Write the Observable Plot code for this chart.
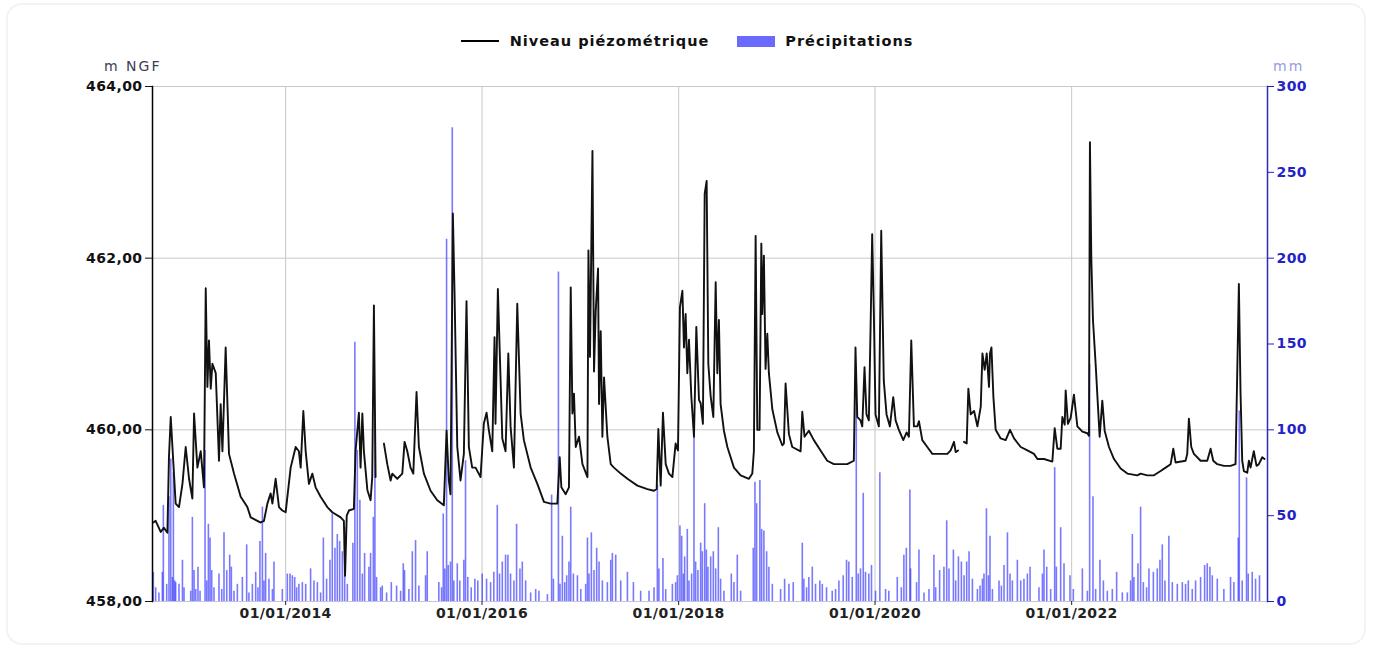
<!DOCTYPE html>
<html lang="fr">
<head>
<meta charset="utf-8">
<title>Niveau piézométrique et précipitations</title>
<script src="https://cdn.jsdelivr.net/npm/d3@7"></script>
<script src="https://cdn.jsdelivr.net/npm/@observablehq/plot@0.6"></script>
<style>
  body { margin: 0; background: #fff; }
  #card { position: relative; width: 1374px; height: 651px; overflow: hidden; font-family: "DejaVu Sans", sans-serif; }
  #frame { position: absolute; left: 6px; top: 3px; width: 1360px; height: 642px; border: 2px solid #f3f3f3; border-radius: 16px; box-sizing: border-box; }
  #legend { position: absolute; top: 33px; left: 0; width: 1374px; display: flex; justify-content: center; align-items: center; font-weight: bold; font-size: 14.5px; letter-spacing: 1px; line-height: 16px; color: #111; }
  #legend .line { width: 38px; height: 2px; background: #000; margin-right: 11px; }
  #legend .box { width: 38px; height: 11px; background: #6a6aff; margin-right: 10px; margin-left: 28px; }
  .unit { position: absolute; top: 58px; font-size: 14px; letter-spacing: 2px; line-height: 16px; }
  #unitLeft { left: 104px; color: #3d3d55; }
  #unitRight { left: 1273px; color: #9b9be0; }
  #chart { position: absolute; left: 0; top: 56px; }
</style>
</head>
<body>
<div id="card">
  <div id="frame"></div>
  <div id="legend">
    <span class="line"></span><span>Niveau piézométrique</span>
    <span class="box"></span><span>Précipitations</span>
  </div>
  <div class="unit" id="unitLeft">m NGF</div>
  <div class="unit" id="unitRight">mm</div>
  <div id="chart"></div>
</div>
<script>
// Groundwater level (m NGF), as [decimal year, level]; the series breaks where readings are missing.
const levelsAug2012ToNov2014 = [
  [2012.653,458.92],[2012.677,458.94],[2012.728,458.81],[2012.761,458.86],[2012.796,458.80],[2012.812,459.68],
  [2012.830,460.15],[2012.880,459.14],[2012.914,459.10],[2012.949,459.37],[2012.982,459.80],[2013.016,459.43],
  [2013.050,459.20],[2013.067,460.19],[2013.101,459.56],[2013.135,459.75],[2013.168,459.33],[2013.186,461.65],
  [2013.203,460.50],[2013.219,461.04],[2013.237,460.48],[2013.254,460.77],[2013.288,460.66],[2013.321,459.64],
  [2013.338,460.30],[2013.356,459.75],[2013.389,460.96],[2013.423,459.72],[2013.474,459.49],[2013.542,459.22],
  [2013.610,459.10],[2013.644,458.98],[2013.746,458.92],[2013.779,458.94],[2013.814,459.14],[2013.847,459.26],
  [2013.865,459.14],[2013.898,459.43],[2013.932,459.10],[2013.966,459.06],[2014.000,459.04],[2014.051,459.56],
  [2014.102,459.80],[2014.135,459.75],[2014.153,459.56],[2014.180,460.22],[2014.204,459.75],[2014.237,459.37],
  [2014.272,459.49],[2014.305,459.33],[2014.356,459.22],[2014.424,459.10],[2014.475,459.04],[2014.560,458.98],
  [2014.593,458.94],[2014.605,458.30],[2014.622,459.00],[2014.644,459.06],[2014.695,459.08],[2014.712,459.75],
  [2014.746,460.20],[2014.763,459.56],[2014.781,460.19],[2014.797,459.75],[2014.832,459.30],[2014.865,459.18],
  [2014.882,459.45],[2014.899,461.45],[2014.916,459.45]
];
const levelsJan2015ToNov2020 = [
  [2015.001,459.84],[2015.035,459.60],[2015.069,459.41],[2015.086,459.49],[2015.137,459.43],[2015.188,459.49],
  [2015.211,459.86],[2015.239,459.75],[2015.272,459.56],[2015.300,459.49],[2015.333,460.44],[2015.357,459.80],
  [2015.408,459.49],[2015.476,459.29],[2015.544,459.18],[2015.611,459.12],[2015.639,459.99],[2015.662,459.41],
  [2015.679,459.25],[2015.703,462.52],[2015.720,461.60],[2015.748,459.80],[2015.781,459.41],[2015.815,459.72],
  [2015.842,461.50],[2015.866,459.80],[2015.900,459.56],[2015.934,459.56],[2015.985,459.45],[2016.018,460.07],
  [2016.046,460.20],[2016.069,460.00],[2016.104,459.75],[2016.127,461.08],[2016.137,460.07],[2016.161,461.64],
  [2016.188,460.60],[2016.206,459.90],[2016.239,459.75],[2016.267,460.89],[2016.290,460.04],[2016.324,459.56],
  [2016.358,461.47],[2016.392,460.19],[2016.425,459.88],[2016.494,459.56],[2016.562,459.37],[2016.629,459.16],
  [2016.697,459.14],[2016.765,459.14],[2016.789,459.68],[2016.806,459.33],[2016.850,459.25],[2016.883,459.33],
  [2016.901,461.66],[2016.918,460.19],[2016.934,460.42],[2016.952,459.80],[2016.985,459.92],[2017.020,459.60],
  [2017.071,459.45],[2017.081,462.09],[2017.097,460.85],[2017.122,463.25],[2017.138,460.68],[2017.155,461.38],
  [2017.179,461.88],[2017.189,460.30],[2017.206,461.15],[2017.223,459.92],[2017.240,460.61],[2017.274,459.92],
  [2017.308,459.60],[2017.341,459.56],[2017.410,459.49],[2017.478,459.43],[2017.580,459.35],[2017.681,459.31],
  [2017.749,459.29],[2017.776,459.31],[2017.793,460.01],[2017.817,459.35],[2017.840,460.20],[2017.868,459.60],
  [2017.901,459.49],[2017.936,459.45],[2017.969,459.84],[2017.993,459.76],[2018.013,461.43],[2018.038,461.62],
  [2018.054,460.96],[2018.071,461.35],[2018.088,460.66],[2018.105,461.05],[2018.129,460.39],[2018.156,459.92],
  [2018.180,461.20],[2018.207,460.35],[2018.224,460.31],[2018.247,460.07],[2018.265,462.75],[2018.285,462.90],
  [2018.302,460.77],[2018.326,460.39],[2018.353,460.15],[2018.377,461.72],[2018.394,460.66],[2018.410,461.28],
  [2018.427,460.30],[2018.461,459.99],[2018.496,459.80],[2018.563,459.56],[2018.631,459.47],[2018.716,459.43],
  [2018.750,459.49],[2018.766,459.75],[2018.784,462.26],[2018.801,460.00],[2018.824,460.00],[2018.842,462.17],
  [2018.852,461.35],[2018.868,462.03],[2018.885,460.71],[2018.903,461.12],[2018.919,460.66],[2018.954,460.24],
  [2019.005,459.97],[2019.055,459.82],[2019.072,459.84],[2019.089,460.54],[2019.123,459.95],[2019.157,459.80],
  [2019.242,459.75],[2019.259,460.21],[2019.282,459.92],[2019.326,459.99],[2019.377,459.88],[2019.445,459.76],
  [2019.513,459.64],[2019.581,459.60],[2019.717,459.60],[2019.784,459.64],[2019.801,460.96],[2019.819,460.15],
  [2019.852,460.11],[2019.870,460.04],[2019.893,460.73],[2019.913,460.18],[2019.937,460.11],[2019.954,461.15],
  [2019.971,462.28],[2019.988,461.35],[2020.005,460.18],[2020.039,460.04],[2020.063,462.32],[2020.089,460.57],
  [2020.117,460.18],[2020.151,460.04],[2020.185,460.38],[2020.209,460.11],[2020.242,460.00],[2020.287,459.88],
  [2020.321,459.97],[2020.344,459.92],[2020.368,461.04],[2020.395,460.04],[2020.429,460.04],[2020.446,460.10],
  [2020.480,459.88],[2020.531,459.80],[2020.582,459.72],[2020.667,459.72],[2020.735,459.72],[2020.768,459.76],
  [2020.802,459.86],[2020.819,459.74],[2020.843,459.76]
];
const levelsNov2020ToDec2023 = [
  [2020.904,459.86],[2020.931,459.84],[2020.948,460.48],[2020.972,460.18],[2021.006,460.22],[2021.040,460.04],
  [2021.074,460.27],[2021.091,460.89],[2021.114,460.70],[2021.135,460.89],[2021.158,460.50],[2021.168,460.89],
  [2021.183,460.96],[2021.203,460.38],[2021.226,460.00],[2021.277,459.90],[2021.328,459.88],[2021.372,460.00],
  [2021.413,459.90],[2021.481,459.80],[2021.549,459.76],[2021.616,459.72],[2021.651,459.66],[2021.718,459.66],
  [2021.803,459.63],[2021.827,460.02],[2021.854,459.78],[2021.888,459.78],[2021.905,460.15],[2021.929,460.06],
  [2021.939,460.46],[2021.962,460.07],[2021.990,460.14],[2022.023,460.41],[2022.058,460.04],[2022.109,459.98],
  [2022.160,459.96],[2022.176,459.93],[2022.186,463.35],[2022.200,462.00],[2022.217,461.28],[2022.244,460.77],
  [2022.268,460.27],[2022.285,459.92],[2022.312,460.34],[2022.336,459.99],[2022.380,459.80],[2022.431,459.66],
  [2022.499,459.55],[2022.567,459.49],[2022.669,459.47],[2022.702,459.49],[2022.770,459.47],[2022.838,459.47],
  [2022.906,459.52],[2022.957,459.56],[2023.008,459.60],[2023.035,459.78],[2023.058,459.62],[2023.160,459.64],
  [2023.177,459.72],[2023.194,460.13],[2023.218,459.80],[2023.245,459.72],[2023.313,459.64],[2023.381,459.64],
  [2023.415,459.78],[2023.442,459.64],[2023.483,459.60],[2023.550,459.58],[2023.618,459.58],[2023.669,459.60],
  [2023.703,461.70],[2023.720,460.43],[2023.737,459.64],[2023.754,459.52],[2023.788,459.50],[2023.805,459.64],
  [2023.822,459.56],[2023.855,459.75],[2023.883,459.58],[2023.906,459.60],[2023.941,459.68],[2023.964,459.66]
];

// Daily rainfall (mm), as [decimal year, amount].
const rainfall2012To2015 = [
  [2012.653,17],[2012.677,8],[2012.710,5],[2012.745,17],[2012.755,56],[2012.789,10],[2012.812,61],[2012.830,83],
  [2012.847,14],[2012.857,75],[2012.870,12],[2012.880,11],[2012.914,10],[2012.949,24],[2012.965,8],[2013.033,6],
  [2013.050,49],[2013.067,18],[2013.084,7],[2013.107,20],[2013.128,6],[2013.179,88],[2013.196,12],[2013.213,45],
  [2013.230,37],[2013.247,18],[2013.270,8],[2013.321,16],[2013.349,7],[2013.372,40],[2013.400,18],[2013.430,27],
  [2013.447,20],[2013.474,6],[2013.508,10],[2013.559,14],[2013.603,33],[2013.626,5],[2013.661,10],[2013.695,17],
  [2013.718,8],[2013.738,35],[2013.763,55],[2013.779,12],[2013.796,28],[2013.830,13],[2013.865,7],[2013.881,23],
  [2013.966,7],[2014.017,16],[2014.044,16],[2014.068,15],[2014.092,14],[2014.112,8],[2014.135,10],[2014.170,11],
  [2014.204,10],[2014.254,19],[2014.288,12],[2014.323,11],[2014.356,5],[2014.384,37],[2014.417,13],[2014.451,24],
  [2014.475,51],[2014.502,31],[2014.526,39],[2014.550,35],[2014.577,29],[2014.601,43],[2014.628,10],[2014.685,34],
  [2014.705,151],[2014.730,88],[2014.756,59],[2014.781,16],[2014.804,28],[2014.848,20],[2014.865,28],[2014.893,49],
  [2014.909,104],[2014.926,14],[2014.967,8],[2014.984,9],[2015.028,5],[2015.076,11],[2015.130,9],[2015.171,6],
  [2015.198,22],[2015.211,18],[2015.255,7],[2015.290,29],[2015.323,35.5],[2015.357,9],[2015.425,15],[2015.442,29],
  [2015.560,11],[2015.588,8],[2015.605,51],[2015.621,19],[2015.639,211],[2015.656,21],[2015.679,23],[2015.697,276],
  [2015.713,12],[2015.748,22],[2015.774,12],[2015.815,24],[2015.832,82],[2015.855,14],[2015.890,8],[2015.927,13],
  [2015.957,12]
];
const rainfall2016To2019 = [
  [2016.002,16],[2016.046,13],[2016.087,11],[2016.120,17],[2016.155,56],[2016.178,16],[2016.206,23],[2016.239,27],
  [2016.263,27],[2016.290,16],[2016.324,12],[2016.351,45],[2016.385,19],[2016.409,23],[2016.443,12],[2016.494,5],
  [2016.545,7],[2016.578,6],[2016.664,4],[2016.707,62],[2016.725,13],[2016.776,192],[2016.792,10],[2016.816,38],
  [2016.840,11],[2016.860,15],[2016.883,23],[2016.901,55],[2016.928,16],[2016.969,15],[2017.003,7],[2017.053,10],
  [2017.071,37],[2017.087,16],[2017.111,40],[2017.138,18],[2017.165,31],[2017.189,23],[2017.223,12],[2017.274,11],
  [2017.308,24],[2017.325,28],[2017.359,27],[2017.410,12],[2017.478,17],[2017.539,11],[2017.613,6],[2017.698,6],
  [2017.749,8],[2017.783,68],[2017.799,19],[2017.840,25],[2017.868,7],[2017.936,10],[2017.969,11],[2017.987,15],
  [2018.013,44],[2018.031,38],[2018.048,16],[2018.061,26],[2018.088,42],[2018.105,12],[2018.132,16],[2018.156,98],
  [2018.173,23],[2018.196,18],[2018.224,34],[2018.241,29],[2018.265,57],[2018.282,30],[2018.298,20],[2018.326,26],
  [2018.353,29],[2018.377,19],[2018.404,43],[2018.427,13],[2018.461,6],[2018.536,16],[2018.563,11],[2018.597,27],
  [2018.631,6],[2018.760,31],[2018.777,69.5],[2018.794,57],[2018.827,70.5],[2018.845,42],[2018.868,41],[2018.896,29],
  [2018.919,20],[2018.954,10],[2019.038,7],[2019.079,13],[2019.123,10],[2019.167,11],[2019.259,34],[2019.275,13],
  [2019.303,8],[2019.326,14],[2019.361,20],[2019.394,10],[2019.438,12],[2019.463,10],[2019.506,8],[2019.564,6],
  [2019.598,7],[2019.632,12],[2019.676,15],[2019.710,24],[2019.733,23],[2019.768,14],[2019.809,127],[2019.829,16],
  [2019.852,19],[2019.880,63],[2019.903,17],[2019.937,16],[2019.964,21]
];
const rainfall2020To2023 = [
  [2020.005,6],[2020.049,75],[2020.107,7],[2020.140,6],[2020.226,14],[2020.267,8],[2020.293,27],[2020.318,31],
  [2020.354,65],[2020.361,19],[2020.422,11],[2020.446,30],[2020.497,5],[2020.548,7],[2020.598,27],[2020.616,8],
  [2020.656,18],[2020.700,20],[2020.728,47],[2020.751,19],[2020.796,30],[2020.819,12],[2020.847,26],[2020.877,23],
  [2020.904,15],[2020.931,23],[2020.955,29],[2020.989,13],[2021.040,7],[2021.067,9],[2021.091,13],[2021.107,16],
  [2021.132,54],[2021.152,15],[2021.168,38],[2021.193,7],[2021.260,12],[2021.284,9],[2021.311,21],[2021.346,40],
  [2021.372,16],[2021.396,12],[2021.447,24],[2021.481,12],[2021.514,13],[2021.549,16],[2021.576,20],[2021.667,8],
  [2021.702,16],[2021.718,30],[2021.746,20],[2021.786,7],[2021.827,78],[2021.844,20],[2021.888,43],[2021.922,22],
  [2021.983,15],[2022.017,7],[2022.109,19],[2022.160,6],[2022.183,138],[2022.217,61],[2022.244,7],[2022.288,24],
  [2022.323,12],[2022.363,6],[2022.414,7],[2022.458,17],[2022.516,5],[2022.567,5],[2022.600,12],[2022.618,39],
  [2022.634,14],[2022.675,22],[2022.702,55],[2022.730,11],[2022.763,8],[2022.787,19],[2022.832,17],[2022.872,19],
  [2022.899,24],[2022.923,33],[2022.950,12],[2022.990,38],[2023.025,11],[2023.076,10],[2023.127,11],[2023.160,10],
  [2023.188,12],[2023.228,7],[2023.262,12],[2023.313,14],[2023.354,21],[2023.381,22],[2023.408,20],[2023.432,15],
  [2023.483,13],[2023.550,7],[2023.618,14],[2023.652,11],[2023.697,37],[2023.707,111],[2023.737,12],[2023.781,72],
  [2023.798,16],[2023.839,17],[2023.873,13],[2023.913,15]
];

// Axis ticks
const tickYears = [2014, 2016, 2018, 2020, 2022];
const levelTicks = [458, 460, 462, 464];
const rainTicks = [0, 50, 100, 150, 200, 250, 300];

// Rainfall shares the level axis: 0–300 mm spans 458–464 m.
const levelMin = 458, levelMax = 464, rainMax = 300;
const mmToLevel = mm => levelMin + mm * (levelMax - levelMin) / rainMax;
const levelToMm = v => Math.round((v - levelMin) * rainMax / (levelMax - levelMin));

// Decimal year -> Date (UTC)
const toDate = t => {
  const y = Math.floor(t);
  const a = Date.UTC(y, 0, 1), b = Date.UTC(y + 1, 0, 1);
  return new Date(a + (t - y) * (b - a));
};

const rainfall = [...rainfall2012To2015, ...rainfall2016To2019, ...rainfall2020To2023];
const levelSegments = [levelsAug2012ToNov2014, levelsJan2015ToNov2020, levelsNov2020ToDec2023];
const yearDates = tickYears.map(y => new Date(Date.UTC(y, 0, 1)));
const fmtLevel = v => v.toFixed(2).replace(".", ",");

const chart = Plot.plot({
  width: 1374,
  height: 595,
  marginLeft: 152,
  marginRight: 107,
  marginTop: 30,
  marginBottom: 50,
  style: { fontFamily: "'DejaVu Sans', sans-serif", fontSize: "14px", letterSpacing: "0.4px", background: "transparent", overflow: "visible" },
  x: { type: "utc", domain: [new Date(Date.UTC(2012, 7, 24)), new Date(Date.UTC(2023, 11, 30))] },
  y: { domain: [levelMin, levelMax] },
  marks: [
    Plot.gridX(yearDates, { stroke: "#c8c8c8", strokeOpacity: 1 }),
    Plot.gridY(levelTicks.slice(1), { stroke: "#c8c8c8", strokeOpacity: 1 }),
    Plot.ruleX(rainfall, {
      x: d => toDate(d[0]),
      y1: levelMin,
      y2: d => mmToLevel(d[1]),
      stroke: "#2626ff",
      strokeOpacity: 0.62,
      strokeWidth: 1.6
    }),
    ...levelSegments.map(seg => Plot.line(seg, {
      x: d => toDate(d[0]),
      y: d => d[1],
      stroke: "#111",
      strokeWidth: 1.9
    })),
    Plot.frame({ anchor: "bottom", stroke: "#c4c4dc" }),
    Plot.frame({ anchor: "left", stroke: "#000", strokeWidth: 1.5 }),
    Plot.frame({ anchor: "right", stroke: "#2b2bb5", strokeWidth: 1.5 }),
    Plot.axisX({
      ticks: yearDates,
      tickFormat: d3.utcFormat("%d/%m/%Y"),
      tickSize: 4,
      tickPadding: 3,
      color: "#222",
      fontWeight: "bold",
      label: null
    }),
    Plot.axisY({
      anchor: "left",
      ticks: levelTicks,
      tickFormat: fmtLevel,
      tickSize: 7,
      tickPadding: 3,
      color: "#111",
      fontWeight: "bold",
      label: null
    }),
    Plot.axisY({
      anchor: "right",
      ticks: rainTicks.map(mmToLevel),
      tickFormat: levelToMm,
      tickSize: 6,
      tickPadding: 3,
      color: "#2323c8",
      fontWeight: "bold",
      label: null
    })
  ]
});
document.getElementById("chart").appendChild(chart);
</script>
</body>
</html>
